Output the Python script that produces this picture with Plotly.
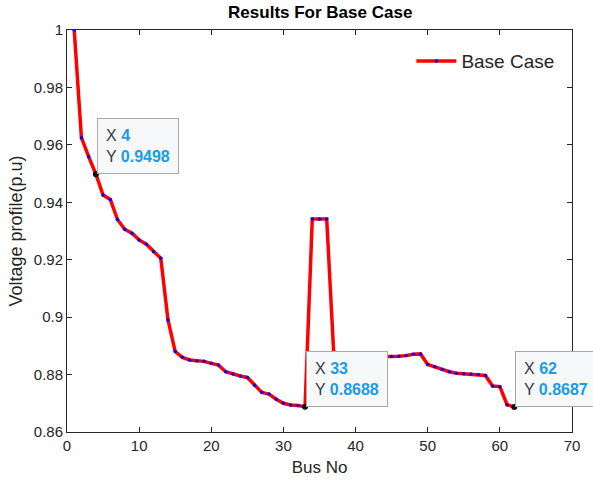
import plotly.graph_objects as go

bus = list(range(1, 63))
voltage = [1.0000, 0.9625, 0.9559, 0.9498, 0.9425, 0.9410, 0.9340, 0.9306, 0.9292, 0.9269,
           0.9254, 0.9228, 0.9205, 0.8990, 0.8880, 0.8860, 0.8851, 0.8848, 0.8846, 0.8839,
           0.8833, 0.8810, 0.8802, 0.8795, 0.8790, 0.8763, 0.8738, 0.8732, 0.8714, 0.8700,
           0.8694, 0.8692, 0.8688, 0.9342, 0.9342, 0.9342, 0.8860, 0.8861, 0.8861, 0.8861,
           0.8862, 0.8862, 0.8862, 0.8862, 0.8863, 0.8864, 0.8866, 0.8871, 0.8872, 0.8835,
           0.8827, 0.8818, 0.8810, 0.8805, 0.8803, 0.8802, 0.8800, 0.8797, 0.8760, 0.8758,
           0.8695, 0.8687]
tip_bus = [4, 33, 62]
tip_volt = [0.9498, 0.8688, 0.8687]

x_ticks = [0, 10, 20, 30, 40, 50, 60, 70]
y_ticks = [0.86, 0.88, 0.90, 0.92, 0.94, 0.96, 0.98, 1.00]

FONT = "Liberation Sans, Arial, Helvetica, sans-serif"
TXT = "#262626"
BLUE_TXT = "#1a9be8"

fig = go.Figure()
fig.add_trace(go.Scatter(
    x=bus, y=voltage, mode="lines+markers", name="Base Case",
    line=dict(color="#ff0000", width=3.5),
    marker=dict(color="#0000ff", size=3.5, line=dict(width=0)),
))
fig.add_trace(go.Scatter(
    x=tip_bus, y=tip_volt, mode="markers", showlegend=False,
    marker=dict(color="#111111", size=6),
))

for bx, by in zip(tip_bus, tip_volt):
    fig.add_annotation(
        x=bx, y=by, xref="x", yref="y", showarrow=False,
        xanchor="left", yanchor="bottom", xshift=1, yshift=0,
        align="left",
        text=(f"X <b><span style='color:{BLUE_TXT}'>{bx}</span></b><br>"
              f"Y <b><span style='color:{BLUE_TXT}'>{by:.4f}</span></b>"),
        font=dict(family=FONT, size=16, color="#3a3a3a"),
        bgcolor="#f7f8fa", bordercolor="#a8a8a8", borderwidth=1, borderpad=8,
    )

axis_common = dict(
    showgrid=False, zeroline=False, showline=True, linecolor="#262626", linewidth=1,
    mirror="ticks", ticks="inside", ticklen=5, tickcolor="#262626",
    tickfont=dict(family=FONT, size=15, color=TXT), automargin=False,
)
fig.update_xaxes(range=[0, 70], tickvals=x_ticks, ticktext=[str(v) for v in x_ticks],
                 title=dict(text="Bus No", font=dict(family=FONT, size=17, color=TXT), standoff=8),
                 **axis_common)
fig.update_yaxes(range=[0.86, 1.0], tickvals=y_ticks,
                 ticktext=["0.86", "0.88", "0.9", "0.92", "0.94", "0.96", "0.98", "1"],
                 title=dict(text="Voltage profile(p.u)", font=dict(family=FONT, size=18, color=TXT), standoff=6),
                 **axis_common)

fig.update_layout(
    width=593, height=482,
    margin=dict(l=67, r=21, t=30, b=50),
    paper_bgcolor="white", plot_bgcolor="white",
    title=dict(text="<b>Results For Base Case</b>", x=0.54, xanchor="center", y=0.975, yanchor="middle",
               font=dict(family=FONT, size=17, color="#000000")),
    legend=dict(x=0.975, xanchor="right", y=0.97, yanchor="top", bgcolor="rgba(255,255,255,0)",
                font=dict(family=FONT, size=19, color=TXT), itemwidth=40),
    showlegend=True,
)

fig.write_html("out.html")
